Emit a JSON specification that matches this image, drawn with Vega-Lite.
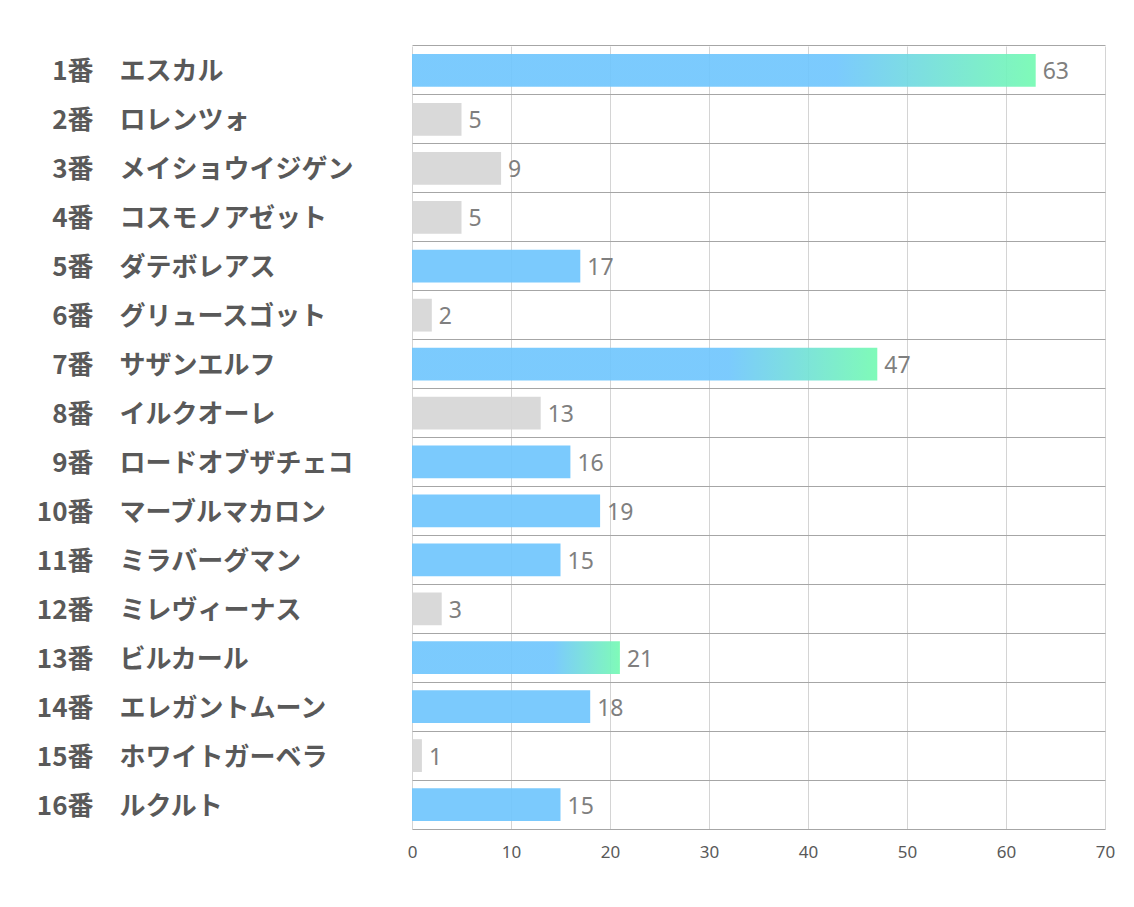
{
  "$schema": "https://vega.github.io/schema/vega-lite/v6.json",
  "autosize": "none",
  "padding": {"left": 412, "top": 46, "right": 29, "bottom": 78},
  "width": 693,
  "height": 783,
  "background": "white",
  "config": {"view": {"stroke": null}},
  "data": {
    "values": [
      {"horse": "1番　エスカル", "value": 63, "group": "grad"},
      {"horse": "2番　ロレンツォ", "value": 5, "group": "gray"},
      {"horse": "3番　メイショウイジゲン", "value": 9, "group": "gray"},
      {"horse": "4番　コスモノアゼット", "value": 5, "group": "gray"},
      {"horse": "5番　ダテボレアス", "value": 17, "group": "blue"},
      {"horse": "6番　グリュースゴット", "value": 2, "group": "gray"},
      {"horse": "7番　サザンエルフ", "value": 47, "group": "grad"},
      {"horse": "8番　イルクオーレ", "value": 13, "group": "gray"},
      {"horse": "9番　ロードオブザチェコ", "value": 16, "group": "blue"},
      {"horse": "10番　マーブルマカロン", "value": 19, "group": "blue"},
      {"horse": "11番　ミラバーグマン", "value": 15, "group": "blue"},
      {"horse": "12番　ミレヴィーナス", "value": 3, "group": "gray"},
      {"horse": "13番　ビルカール", "value": 21, "group": "grad"},
      {"horse": "14番　エレガントムーン", "value": 18, "group": "blue"},
      {"horse": "15番　ホワイトガーベラ", "value": 1, "group": "gray"},
      {"horse": "16番　ルクルト", "value": 15, "group": "blue"}
    ]
  },
  "resolve": {"axis": {"y": "independent"}},
  "layer": [
    {
      "mark": {"type": "bar", "opacity": 0.92},
      "encoding": {
        "y": {
          "field": "horse", "type": "nominal", "sort": null,
          "scale": {"paddingInner": 0.33, "paddingOuter": 0.165},
          "axis": {
            "title": null, "orient": "left", "domain": false, "ticks": false,
            "grid": true, "gridColor": "#a6a6a6", "gridWidth": 1,
            "bandPosition": -0.2463, "labelOffset": 2,
            "labelExpr": "split(datum.value, '　')[1]",
            "labelAlign": "left", "labelPadding": 293,
            "labelFont": "Noto Sans CJK JP", "labelFontWeight": "bold",
            "labelFontSize": 26, "labelColor": "#595959", "labelLimit": 400
          }
        },
        "x": {
          "field": "value", "type": "quantitative",
          "scale": {"domain": [0, 70], "nice": false},
          "axis": {
            "title": null, "values": [0, 10, 20, 30, 40, 50, 60, 70],
            "domain": true, "domainColor": "#a6a6a6", "domainWidth": 1,
            "ticks": false, "tickSize": 0, "labelFlush": false,
            "grid": true, "gridColor": "#d4d4d4",
            "labelFont": "Noto Sans", "labelFontSize": 17, "labelColor": "#595959",
            "labelPadding": 15
          }
        },
        "color": {
          "field": "group", "type": "nominal", "legend": null,
          "scale": {"domain": ["blue", "gray", "grad"], "range": ["#70c6fd", "#d6d6d6", "rgba(0,0,0,0)"]}
        }
      }
    },
    {
      "transform": [{"filter": "datum.group == 'grad'"}],
      "mark": {
        "type": "bar", "opacity": 0.92,
        "color": {
          "gradient": "linear", "x1": 0, "x2": 1, "y1": 0, "y2": 0,
          "stops": [
            {"offset": 0, "color": "#70c6fd"},
            {"offset": 0.68, "color": "#70c6fd"},
            {"offset": 1, "color": "#74fab2"}
          ]
        }
      },
      "encoding": {
        "y": {"field": "horse", "type": "nominal", "sort": null, "axis": null},
        "x": {"field": "value", "type": "quantitative"}
      }
    },
    {
      "mark": {"type": "text", "align": "left", "baseline": "middle", "dx": 7, "dy": 2, "font": "Noto Sans", "fontSize": 23, "color": "#7f7f7f"},
      "encoding": {
        "y": {
          "field": "horse", "type": "nominal", "sort": null,
          "axis": {
            "title": null, "orient": "left", "domain": false, "ticks": false, "grid": false,
            "labelOffset": 2,
            "labelExpr": "split(datum.value, '　')[0]",
            "labelAlign": "right", "labelPadding": 319,
            "labelFont": "Noto Sans CJK JP", "labelFontWeight": "bold",
            "labelFontSize": 26, "labelColor": "#595959"
          }
        },
        "x": {"field": "value", "type": "quantitative"},
        "text": {"field": "value", "type": "quantitative"}
      }
    }
  ]
}
